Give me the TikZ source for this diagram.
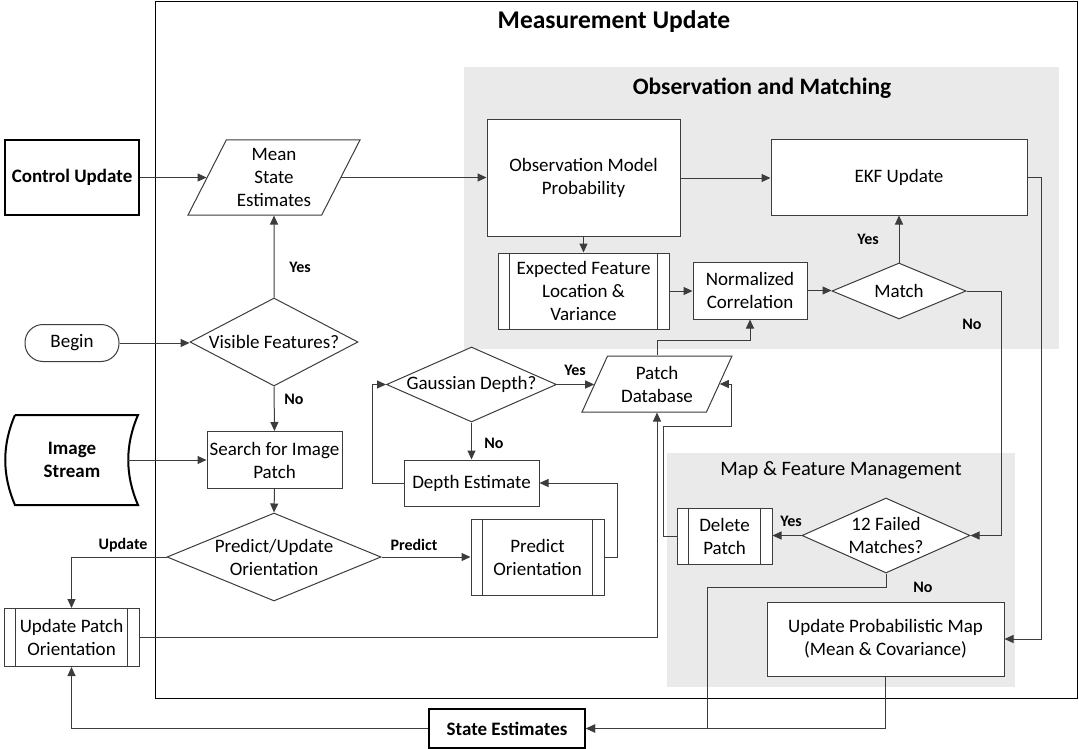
\documentclass[tikz,border=0pt]{standalone}
\usepackage{fontspec}
\setmainfont{Carlito}
\usetikzlibrary{arrows.meta,shapes.geometric,calc}
\definecolor{linec}{RGB}{60,60,60}
\definecolor{grayc}{RGB}{234,234,234}
\begin{document}
\begin{tikzpicture}[x=1pt,y=-1pt,
  every node/.style={font=\fontsize{19}{23}\selectfont, align=center, inner sep=0pt, text=black},
  box/.style={draw=linec, line width=1pt, fill=white, rectangle},
  thickbox/.style={draw=black, line width=2pt, fill=white, rectangle, font=\fontsize{19}{23}\selectfont\bfseries},
  dia/.style={draw=linec, line width=1pt, fill=white, diamond},
  para/.style={draw=linec, line width=1pt, fill=white, trapezium, trapezium left angle=63, trapezium right angle=117, trapezium stretches=true},
  arr/.style={draw=linec, line width=1pt, -{Triangle[length=9pt,width=8pt]}},
  plain/.style={draw=linec, line width=1pt},
  lab/.style={font=\fontsize{16}{19}\selectfont\bfseries},
  region/.style={fill=grayc, draw=none, rectangle}
]
\useasboundingbox (0,0) rectangle (1079,749);

% containers
\node[draw=black, line width=1pt, minimum width=922, minimum height=696] (mu) at (616,350) {};
\node[region, minimum width=595, minimum height=282] (obs) at (761.5,208) {};
\node[region, minimum width=348, minimum height=234] (map) at (841,570) {};
\node[font=\fontsize{25.5}{29}\selectfont\bfseries] (mutitle) at (614,22) {Measurement Update};
\node[font=\fontsize{23.5}{27}\selectfont\bfseries] (obstitle) at (762,88) {Observation and Matching};
\node[font=\fontsize{20.5}{24}\selectfont] (maptitle) at (841,470) {Map \& Feature Management};

% left column
\node[thickbox, minimum width=134, minimum height=75] (ctrl) at (72,177.5) {Control Update};
\node[para, minimum width=172, minimum height=75] (mse) at (274,177.5) {Mean\\State\\Estimates};
\node[box, rounded corners=18pt, minimum width=94, minimum height=37] (begin) at (72,343) {Begin};
\node[dia, minimum width=168, minimum height=88] (vis) at (274,342) {};
\node (vistext) at (274,342) {Visible Features?};

% image stream (stored data)
\draw[draw=black, line width=2pt, fill=white] (15,415) -- (138,415) .. controls (125,445) and (125,475) .. (138,505) -- (15,505) .. controls (2,475) and (2,445) .. (15,415);
\node[font=\fontsize{19}{23}\selectfont\bfseries] (img) at (72,460) {Image\\Stream};
\coordinate (imgR) at (128,460);

\node[box, minimum width=135, minimum height=57] (search) at (274.5,460) {Search for Image\\Patch};
\node[dia, minimum width=214, minimum height=88] (pu) at (274,557) {};
\node (putext) at (274,557) {Predict/Update\\Orientation};
\node[box, minimum width=135, minimum height=58] (upo) at (71.5,637.5) {Update Patch\\Orientation};

% middle
\node[box, minimum width=133, minimum height=76] (po) at (537.5,557) {Predict\\Orientation};
\node[box, minimum width=135, minimum height=46] (depth) at (471.5,483) {Depth Estimate};
\node[dia, minimum width=170, minimum height=75] (gd) at (471.5,384.5) {};
\node (gdtext) at (471.5,384.5) {Gaussian Depth?};
\node[para, minimum width=150, minimum height=56] (pdb) at (657,384) {Patch\\Database};

% observation and matching
\node[box, minimum width=193, minimum height=116] (obsm) at (583.5,178) {Observation Model\\Probability};
\node[box, minimum width=256, minimum height=75] (ekf) at (899,177.5) {EKF Update};
\node[box, minimum width=171, minimum height=76] (efl) at (583.5,291) {Expected Feature\\Location \&\\Variance};
\node[box, minimum width=114, minimum height=57] (nc) at (750,290.5) {Normalized\\Correlation};
\node[dia, minimum width=134, minimum height=56] (match) at (899,291) {};
\node (matchtext) at (899,291) {Match};

% map & feature management
\node[dia, minimum width=168, minimum height=75] (fail) at (886,535.5) {};
\node (failtext) at (886,535.5) {12 Failed\\Matches?};
\node[box, minimum width=95, minimum height=56] (del) at (724.5,536) {Delete\\Patch};
\node[box, minimum width=237, minimum height=74] (upm) at (885.5,639) {Update Probabilistic Map\\(Mean \& Covariance)};

\node[thickbox, minimum width=156, minimum height=39] (st) at (507,728.5) {State Estimates};

% subprocess inner bars
\foreach \n in {upo,po,efl,del}{
  \draw[plain] ([xshift=12pt]\n.north west) -- ([xshift=12pt]\n.south west)
               ([xshift=-12pt]\n.north east) -- ([xshift=-12pt]\n.south east);
}

% connectors
\draw[arr] (ctrl.east) -- (ctrl.east -| mse.west);
\draw[arr] (mse.east) -- (mse.east -| obsm.west);
\draw[arr] (obsm.east) -- (obsm.east -| ekf.west);
\draw[arr] (obsm.south) -- (efl.north);
\draw[arr] (efl.east) -- (efl.east -| nc.west);
\draw[arr] (nc.east) -- (nc.east -| match.west);
\draw[arr] (match.north) -- (ekf.south);
\node[lab] (yes1) at (868,239) {Yes};
\draw[arr] (match.east) -- ++(35,0) |- (fail.east);
\node[lab] (no1) at (972,324) {No};
\draw[arr] (ekf.east) -- ++(14,0) |- (upm.east);
\draw[arr] (fail.west) -- (fail.west -| del.east);
\node[lab] (yes2) at (791,521) {Yes};
\draw[arr] (del.west) -- ++(-13,0) |- ++(68,-110) |- (pdb.east);
\draw[arr] (fail.south) -- ++(0,14) -- ++(-179,0) |- (st.east);
\node[lab] (no2) at (923,587) {No};
\draw[arr] (upm.south) |- (st.east);
\draw[arr] (st.west) -| (upo.south);
\draw[arr] (upo.east) -| (pdb.south);
\draw[arr] (pdb.north) -- ++(0,-15) -| (nc.south);
\draw[arr] (gd.east) -- (gd.east -| pdb.west);
\node[lab] (yes3) at (575,370) {Yes};
\draw[arr] (gd.south) -- (depth.north);
\node[lab] (no3) at (494,443) {No};
\draw[arr] (depth.west) -- ++(-31,0) |- (gd.west);
\draw[arr] (po.east) -- ++(13,0) |- (depth.east);
\draw[arr] (pu.east) -- (pu.east -| po.west);
\node[lab] (pred) at (414,545) {Predict};
\draw[arr] (pu.west) -| (upo.north);
\node[lab] (upd) at (123,545) {Update};
\draw[arr] (search.south) -- (pu.north);
\draw[arr] (vis.south) -- (search.north);
\node[lab] (no4) at (294,399) {No};
\draw[arr] (vis.north) -- (mse.south);
\node[lab] (yes4) at (300,267) {Yes};
\draw[arr] (begin.east) -- (begin.east -| vis.west);
\draw[arr] (imgR) -- (imgR -| search.west);
\end{tikzpicture}
\end{document}
